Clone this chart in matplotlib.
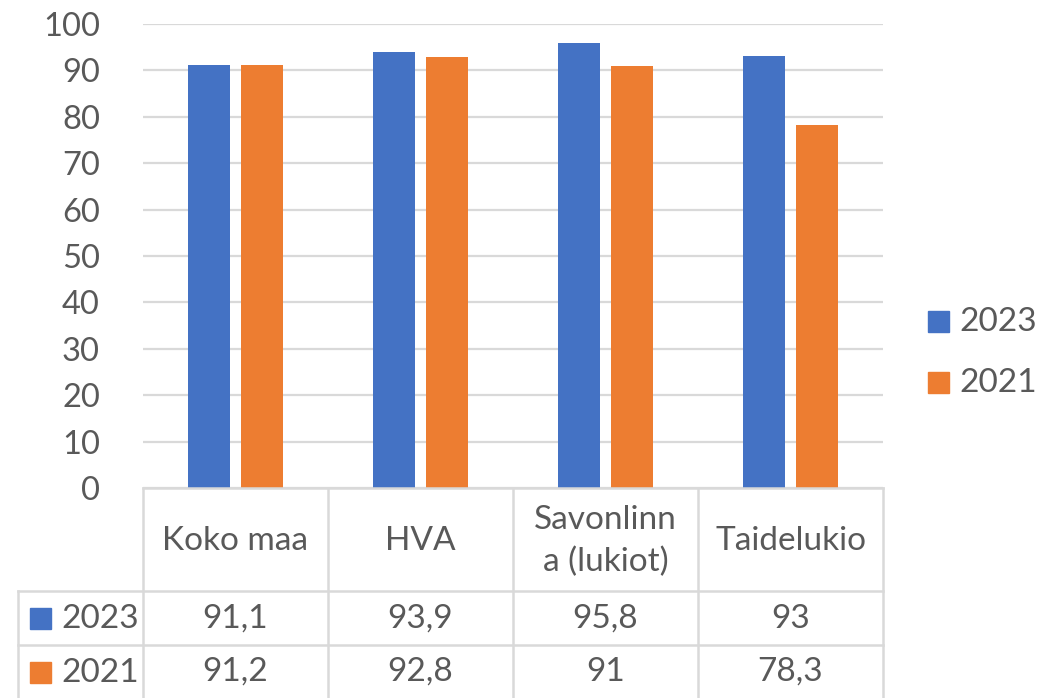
import matplotlib.pyplot as plt
from matplotlib.patches import Rectangle

categories = ['Koko maa', 'HVA', 'Savonlinn\na (lukiot)', 'Taidelukio']
series = ['2023', '2021']
values_2023 = [91.1, 93.9, 95.8, 93]
values_2021 = [91.2, 92.8, 91, 78.3]
labels_2023 = ['91,1', '93,9', '95,8', '93']
labels_2021 = ['91,2', '92,8', '91', '78,3']
yticks = [0, 10, 20, 30, 40, 50, 60, 70, 80, 90, 100]

blue = '#4472C4'
orange = '#ED7D31'
grid = '#D9D9D9'
txt = '#595959'
plt.rcParams['font.family'] = ['Lato', 'DejaVu Sans']

W, H = 1058, 698
fig = plt.figure(figsize=(W / 100, H / 100), dpi=100)

# plot area in pixels
x0, x1, ytop, ybot = 143, 883, 24, 488
ax = fig.add_axes([x0 / W, 1 - ybot / H, (x1 - x0) / W, (ybot - ytop) / H])
n = len(categories)
pos = [i + 0.5 for i in range(n)]
bw = 0.227
off = 0.142
ax.bar([p - off for p in pos], values_2023, bw, color=blue, zorder=3)
ax.bar([p + off for p in pos], values_2021, bw, color=orange, zorder=3)
ax.set_xlim(0, n)
ax.set_ylim(0, 100)
ax.set_yticks(yticks)
ax.set_xticks([])
ax.grid(axis='y', color=grid, linewidth=1.6, zorder=0)
for s in ax.spines.values():
    s.set_visible(False)
ax.tick_params(axis='y', length=0, pad=31, labelsize=23.5, labelcolor=txt)

# data table overlay in pixel coords
tb = fig.add_axes([0, 0, 1, 1], zorder=5)
tb.set_xlim(0, W)
tb.set_ylim(H, 0)
tb.axis('off')
colw = (x1 - x0) / n
lk = dict(color=grid, linewidth=1.8)
row_y = [488, 591, 645, 700]
tb.plot([x0, x1], [488, 488], **lk)
for y in row_y[1:]:
    tb.plot([18, x1], [y, y], **lk)
for i in range(n + 1):
    tb.plot([x0 + i * colw] * 2, [488, 700], **lk)
tb.plot([18, 18], [591, 700], **lk)

fs = 24
for i, c in enumerate(categories):
    cx = x0 + (i + 0.5) * colw
    tb.text(cx, 541, c, ha='center', va='center', fontsize=fs, color=txt,
            linespacing=1.5)
    tb.text(cx, 619, labels_2023[i], ha='center', va='center', fontsize=fs, color=txt)
    tb.text(cx, 672, labels_2021[i], ha='center', va='center', fontsize=fs, color=txt)

for yc, name, col in [(618, series[0], blue), (672, series[1], orange)]:
    tb.add_patch(Rectangle((30, yc - 10.5), 21, 21, color=col))
    tb.text(61, yc + 1, name, ha='left', va='center', fontsize=fs, color=txt)

# legend
for yc, name, col in [(321, series[0], blue), (382, series[1], orange)]:
    tb.add_patch(Rectangle((928, yc - 10.5), 21, 21, color=col))
    tb.text(959, yc + 1, name, ha='left', va='center', fontsize=fs, color=txt)

fig.savefig('out.png', dpi=100)
